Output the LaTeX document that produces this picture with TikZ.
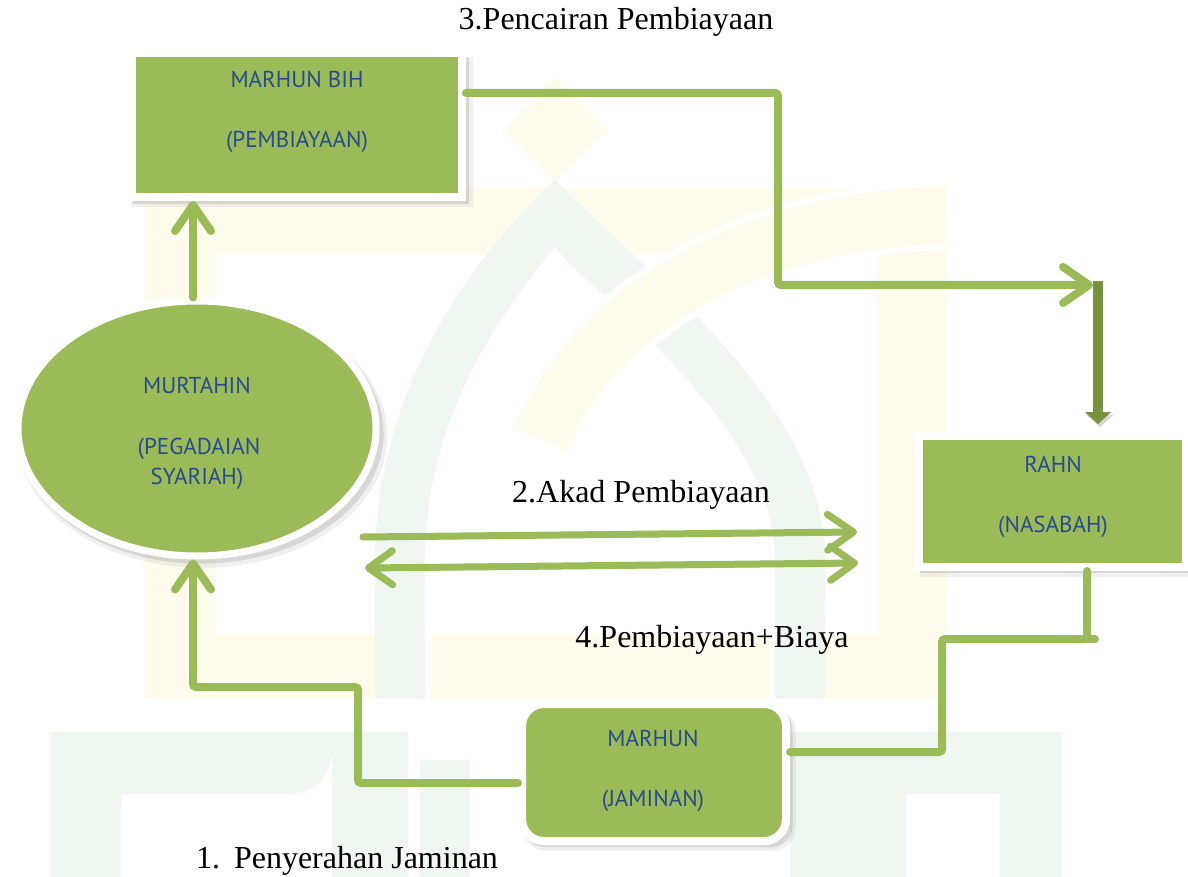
\documentclass[tikz,border=0pt]{standalone}
\usepackage{fontspec}
\setmainfont{Liberation Serif}
\newfontfamily\boxfont{PT Sans}
\usetikzlibrary{arrows.meta,shapes.geometric,shadows}
\definecolor{gr}{RGB}{155,187,89}
\definecolor{dgr}{RGB}{118,146,60}
\definecolor{tb}{RGB}{38,76,140}
\definecolor{wmy}{RGB}{255,252,238}
\definecolor{wmg}{RGB}{240,247,241}
\tikzset{
  boxfill/.style={fill=gr, draw=white, line width=8pt, inner sep=0pt,
    drop shadow={opacity=0.12, shadow xshift=5pt, shadow yshift=-7pt, shadow scale=1.035},
    drop shadow={opacity=0.22, shadow xshift=4pt, shadow yshift=-5pt, shadow scale=1.02}},
  lbl/.style={font=\boxfont\fontsize{23}{26}\selectfont, text=tb, anchor=base, inner sep=0pt},
  capt/.style={font=\fontsize{32}{36}\selectfont, text=black, anchor=base, inner sep=0pt},
  conn/.style={draw=gr, line width=8pt, rounded corners=3pt, line cap=round,
    preaction={draw=black, opacity=0.15, transform canvas={shift={(2pt,-3pt)}}}},
  barb/.style={-{Straight Barb[length=26pt,width=36pt,line cap=round,line join=round]}},
  dbarb/.style={{Straight Barb[length=24pt,width=34pt,line cap=round,line join=round]}-{Straight Barb[length=24pt,width=34pt,line cap=round,line join=round]}},
}
\begin{document}
\begin{tikzpicture}[x=1pt,y=-1pt]
\useasboundingbox (0,0) rectangle (1188,877);
% faint watermark
\fill[wmy, even odd rule] (145,188) rectangle (946,698) (216,254) rectangle (878,634);
\fill[wmy] (555,77) -- (608,130) -- (555,183) -- (502,130) -- cycle;
\draw[wmg, line width=50pt] (400,698) -- (400,560) .. controls (400,420) and (470,300) .. (555,215)
   .. controls (640,300) and (800,420) .. (800,560) -- (800,698);
\draw[white, line width=6pt] (428,698) -- (428,560) .. controls (428,440) and (490,330) .. (555,252)
   .. controls (620,330) and (772,440) .. (772,560) -- (772,698);
\draw[white, line width=70pt] (540,440) .. controls (600,300) and (760,220) .. (946,215);
\draw[wmy, line width=58pt] (540,440) .. controls (600,300) and (760,220) .. (946,215);
\fill[wmg, even odd rule] (51,732) rectangle (408,877)
   (121,794) -- (290,794) arc[start angle=90,end angle=0,radius=42] -- (332,877) -- (121,877) -- cycle;
\fill[wmg] (420,760) rectangle (470,877);
\fill[wmg, even odd rule] (790,732) rectangle (1062,877) (906,794) rectangle (1000,877);

% nodes
\node[rectangle, boxfill, minimum width=330pt, minimum height=144pt] (mbih) at (297,125) {};
\node[rectangle, boxfill, minimum width=267pt, minimum height=131pt] (rahn) at (1052.5,501.5) {};
\node[rectangle, boxfill, rounded corners=22pt, minimum width=264pt, minimum height=137pt] (marhun) at (654,772.5) {};
\node[ellipse, boxfill, line width=7pt, minimum width=358pt, minimum height=255pt] (murt) at (197,428.5) {};

\node[lbl] (mbih1) at (297,88) {MARHUN BIH};
\node[lbl] (mbih2) at (297,148) {(PEMBIAYAAN)};
\node[lbl] (murt1) at (197,393) {MURTAHIN};
\node[lbl] (murt2) at (199,454) {(PEGADAIAN};
\node[lbl] (murt3) at (197,484) {SYARIAH)};
\node[lbl] (rahn1) at (1053,472) {RAHN};
\node[lbl] (rahn2) at (1053,532) {(NASABAH)};
\node[lbl] (marhun1) at (653,746) {MARHUN};
\node[lbl] (marhun2) at (653,806) {(JAMINAN)};

\node[capt] (t3) at (616,30) {3.Pencairan Pembiayaan};
\node[capt] (t2) at (641,502) {2.Akad Pembiayaan};
\node[capt] (t4) at (712,647) {4.Pembiayaan+Biaya};
\node[capt] (t1) at (347,868) {1.\hspace{14pt}Penyerahan Jaminan};

% helper coordinates
\coordinate (y93) at (0,93);
\coordinate (tip3) at (1093,285);
\coordinate (d0) at (1098,281);
\coordinate (d1) at (1098,424);
\coordinate (x1087) at (1087,0);
\coordinate (y752) at (0,752);
\coordinate (y783) at (0,783);
\coordinate (x193) at (193,0);
\coordinate (a1) at (363,537);
\coordinate (a2) at (857,532);
\coordinate (b1) at (365,568);
\coordinate (b2) at (858,563);

% connectors
\draw[conn, barb] (mbih.east |- y93) -- (778,93) -- (778,285) -- (tip3);
\draw[dgr, line width=10pt, -{Triangle[length=12pt,width=26pt,line width=0.1pt]},
  preaction={draw=black, opacity=0.15, transform canvas={shift={(2pt,-3pt)}}}] (d0) -- (d1);
\draw[conn] (rahn.south -| x1087) -- (1087,639) -- (942,639) -- (942,752) -- (marhun.east |- y752);
\draw[conn] (1087,639) -- (1095,639);
\draw[conn, barb] (marhun.west |- y783) -- (358,783) -- (358,687) -- (193,687) -- (murt.south -| x193);
\draw[conn, barb] (murt.north -| x193) -- (mbih.south -| x193);
\draw[conn, line width=7pt, barb] (a1) -- (a2);
\draw[conn, line width=7pt, dbarb] (b1) -- (b2);
\end{tikzpicture}
\end{document}
